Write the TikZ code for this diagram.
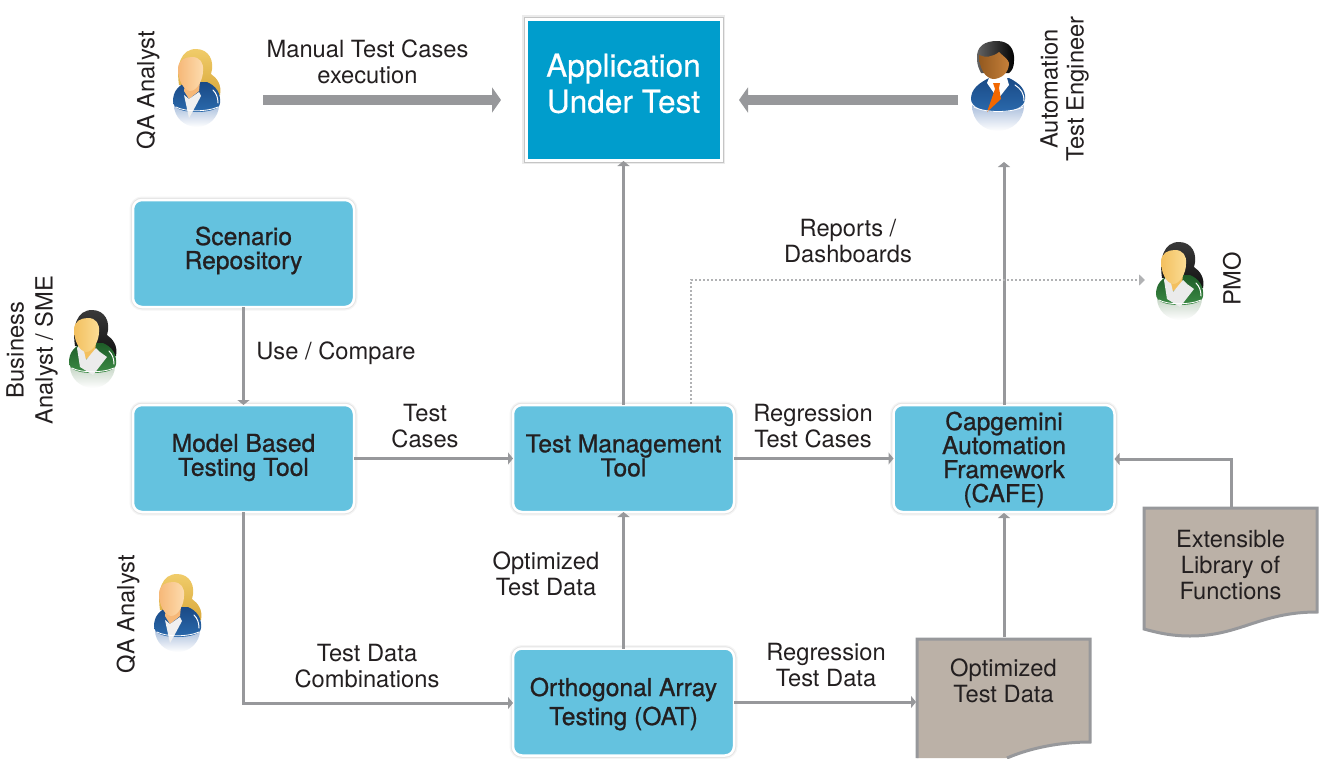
\documentclass[tikz,border=0pt]{standalone}
\usepackage{fontspec}
\setmainfont{TeX Gyre Heros}
\newfontfamily\medfont[FakeBold=0.9]{TeX Gyre Heros}
\newfontfamily\appfont[FakeBold=0.4]{TeX Gyre Heros}
\usetikzlibrary{arrows.meta}
\definecolor{ink}{HTML}{231F20}
\definecolor{boxblue}{HTML}{64C2DF}
\definecolor{appblue}{HTML}{009DCC}
\definecolor{linegray}{HTML}{97989B}
\definecolor{docfill}{HTML}{BBB1A7}
% figure palettes
\definecolor{blondeHairA}{HTML}{F0CC6A}\definecolor{blondeHairB}{HTML}{D9A93C}
\definecolor{blondeSkinA}{HTML}{FDDDB0}\definecolor{blondeSkinB}{HTML}{F6B878}
\definecolor{blondeCoatA}{HTML}{1A4A86}\definecolor{blondeCoatB}{HTML}{2A69AC}
\definecolor{blondeGlow}{HTML}{A9BEDC}
\definecolor{darkHairA}{HTML}{3A3A3A}\definecolor{darkHairB}{HTML}{111111}
\definecolor{darkSkinA}{HTML}{FBDD96}\definecolor{darkSkinB}{HTML}{F3C05F}
\definecolor{darkCoatA}{HTML}{1E5C28}\definecolor{darkCoatB}{HTML}{3C8B45}
\definecolor{darkGlow}{HTML}{C4D4C4}
\tikzset{
  lbl/.style={font=\fontsize{23.7}{26}\selectfont,text=ink,align=center,inner sep=0pt,outer sep=0pt},
  tool/.style={rounded corners=9pt,fill=boxblue,draw=white,line width=2.5pt,
    preaction={draw=black,draw opacity=.04,line width=7pt},
    preaction={draw=black,draw opacity=.07,line width=4.5pt},
    minimum width=221pt,minimum height=107pt,outer sep=0pt,inner sep=0pt},
  tooltext/.style={align=center,text=ink,inner sep=0pt,outer sep=0pt,
    font=\medfont\fontsize{24.6}{24}\selectfont},
  appbox/.style={fill=appblue,draw=white,line width=3pt,
    preaction={draw=black,draw opacity=.08,line width=8pt},
    preaction={draw=black,draw opacity=.16,line width=5pt},
    minimum width=195pt,minimum height=141pt,outer sep=0pt,inner sep=0pt},
  apptext/.style={align=center,text=white,inner sep=0pt,outer sep=0pt,
    font=\appfont\fontsize{31.6}{36}\selectfont},
  docbg/.style={fill=docfill,draw=linegray,line width=3pt,line join=miter},
  doctext/.style={minimum width=175pt,align=center,text=ink,inner sep=0pt,outer sep=0pt,
    font=\fontsize{23.7}{26}\selectfont},
  conn/.style={draw=linegray,line width=3pt,-{Triangle[width=12pt,length=5pt]}},
  bigconn/.style={draw=linegray,line width=10pt,-{Triangle[width=25pt,length=9pt]}},
  dotconn/.style={draw=linegray!75,line width=1.5pt,dash pattern=on 2pt off 2pt,-{Triangle[width=11pt,length=6pt]}},
  figlabel/.style={lbl,rotate=90}
}
% woman: x, y of top-left corner, palette, extra drawing
\newcommand{\womanfig}[4]{%
\begin{scope}[shift={(#1,#2)}]
  % reflection
  \shade[top color=#3Glow,bottom color=white,draw=none]
    (1,56) .. controls (8,64) and (38,64) .. (46,56)
    .. controls (46,68) and (36,78) .. (24,78) .. controls (11,78) and (1,68) .. (1,56) -- cycle;
  % hair
  \shade[top color=#3HairA,bottom color=#3HairB]
    (6,36) .. controls (3,16) and (8,0) .. (23,0) .. controls (36,0) and (42,12) .. (38,25)
    .. controls (44,29) and (49,36) .. (47,46) .. controls (42,46) and (35,42) .. (30,38) -- cycle;
  % coat
  \shade[top color=#3CoatA,bottom color=#3CoatB]
    (0,52) .. controls (0,42) and (6,36) .. (14,33) -- (34,33)
    .. controls (43,37) and (48,44) .. (47,54) .. controls (47,60) and (36,63) .. (24,63)
    .. controls (10,63) and (0,60) .. (0,52) -- cycle;
  % neck
  \fill[#3SkinB] (12,34) -- (27,32) -- (26,42) -- (16,50) -- (11,42) -- cycle;
  #4
  % face
  \shade[left color=#3SkinB,right color=#3SkinA]
    (5,20) .. controls (5,11) and (12,8) .. (19,8) .. controls (27,8) and (31,14) .. (30,22)
    .. controls (30,31) and (24,42) .. (17,42) .. controls (10,41) and (5,30) .. (5,20) -- cycle;
  % highlights
  \draw[white,line width=1pt,line cap=round] (40,41) .. controls (43,44) and (45,48) .. (45,54);
  \draw[white,line width=.8pt,line cap=round] (3,58) .. controls (12,63) and (34,63) .. (45,58);
\end{scope}}
\newcommand{\blondeblouse}{\fill[white!94!black] (11,46) -- (16,50) -- (26,43) -- (28,47) -- (20,62) -- (16,69) -- cycle;}
\newcommand{\greenblouse}{\fill[white!92!black] (8,38) -- (13,32) -- (17,50) -- (27,38) -- (31,42) -- (38,47) -- (24,65) -- (11,57) -- cycle;}
% man: x, y of top-left corner
\newcommand{\manfig}[2]{%
\begin{scope}[shift={(#1,#2)}]
  \shade[top color=blondeGlow,bottom color=white,draw=none]
    (1,64) .. controls (10,72) and (44,72) .. (53,64)
    .. controls (53,80) and (40,90) .. (27,90) .. controls (13,90) and (1,80) .. (1,64) -- cycle;
  \shade[top color=blondeCoatA,bottom color=blondeCoatB]
    (0,58) .. controls (0,48) and (8,42) .. (18,37) -- (38,37)
    .. controls (48,42) and (55,48) .. (54,58) .. controls (54,66) and (42,71) .. (27,71)
    .. controls (12,71) and (0,66) .. (0,58) -- cycle;
  \fill[white] (18,37) -- (36,37) -- (38,44) -- (27,58) -- (16,42) -- cycle;
  \fill[orange!85!red!95!black] (22,42) -- (29,42) -- (28,47) -- (30,58) -- (16,71) -- (24,48) -- cycle;
  \shade[left color=black!60,right color=black,draw=none]
    (6,18) .. controls (5,5) and (14,0) .. (26,0) .. controls (38,0) and (44,8) .. (43,20)
    .. controls (43,26) and (41,30) .. (38,32) -- (10,32) .. controls (8,28) and (6,24) .. (6,18) -- cycle;
  \shade[left color=brown!70!orange!70!black,right color=brown!90!orange]
    (8,14) .. controls (14,17) and (22,16) .. (28,11) .. controls (32,15) and (37,18) .. (38,22)
    .. controls (38,32) and (30,38) .. (22,38) .. controls (14,37) and (8,27) .. (8,14) -- cycle;
  \draw[white,line width=1pt,line cap=round] (44,44) .. controls (50,48) and (53,52) .. (53,60);
  \draw[white,line width=.8pt,line cap=round] (3,66) .. controls (14,72) and (40,72) .. (52,66);
\end{scope}}
\begin{document}
\begin{tikzpicture}[x=1pt,y=-1pt]
\useasboundingbox (0,0) rectangle (1320,758);
% documents
\draw[docbg] (917,758) -- (917,639) -- (1090,639) -- (1090,742) .. controls (1060,742) and (1030,748) .. (1007,758);
\draw[docbg] (1144,508) -- (1317,508) -- (1317,612) .. controls (1260,612) and (1240,636) .. (1190,636)
  .. controls (1170,636) and (1155,632) .. (1144,629) -- cycle;
% nodes
\node[appbox] (app) at (623.5,89.5) {};
\node[tool] (scen) at (243.5,253.5) {};
\node[tool] (model) at (243.5,458.5) {};
\node[tool] (tmt) at (623.5,458.5) {};
\node[tool] (cafe) at (1004,458.5) {};
\node[tool] (oat) at (623.5,702) {};
\node[apptext] (appt) at ([yshift=6pt]app) {Application\\Under Test};
\node[tooltext] (scent) at ([yshift=3pt]scen) {Scenario\\Repository};
\node[tooltext] (modelt) at ([yshift=1pt]model) {Model Based\\Testing Tool};
\node[tooltext] (tmtt) at ([yshift=3pt]tmt) {Test Management\\Tool};
\node[tooltext] (cafet) at ([yshift=-1pt]cafe) {Capgemini\\Automation\\Framework\\(CAFE)};
\node[tooltext] (oatt) at ([yshift=-2pt]oat) {Orthogonal Array\\[5pt]Testing (OAT)};
\node[doctext] (opt) at (1003.5,681) {Optimized\\Test Data};
\node[doctext] (lib) at (1230.5,565) {Extensible\\Library of\\Functions};
% figures
\womanfig{173}{49}{blonde}{\blondeblouse}
\manfig{971}{41}
\womanfig{69}{310}{dark}{\greenblouse}
\womanfig{1156}{242}{dark}{\greenblouse}
\womanfig{154}{574}{blonde}{\blondeblouse}
% free ends
\coordinate (qaend) at (263,100);
\coordinate (autoend) at (958,100);
\coordinate (cafetop) at (1004,162);
\coordinate (pmoend) at (1145,280);
\coordinate (tmtdot) at (691,404);
\coordinate (bend) at (243.5,703);
\coordinate (libcorner) at (1231,459);
\coordinate (libtop) at (1231,507);
\coordinate (opttop) at (1004,637);
% connectors
\draw[bigconn,shorten >=25pt] (qaend) -- (qaend -| app.west);
\draw[bigconn,shorten >=18pt] (autoend) -- (autoend -| app.east);
\draw[conn] (scen.south) -- (model.north);
\draw[conn] (model.east) -- (tmt.west);
\draw[conn,shorten >=1pt] (tmt.north) -- (app.south);
\draw[conn] (tmt.east) -- (cafe.west);
\draw[conn] (cafe.north) -- (cafetop);
\draw[conn] (oat.north) -- (tmt.south);
\draw[conn] (model.south) -- (bend) -- (bend -| oat.west);
\draw[conn] (oat.east) -- (oat.east -| opt.west);
\draw[conn,shorten >=1pt] (opttop) -- (cafe.south);
\draw[conn] (libtop) -- (libcorner) -- (cafe.east |- libcorner);
\draw[dotconn] (tmtdot) -- (tmtdot |- pmoend) -- (pmoend);
% labels
\node[lbl] (l1) at (367.5,62) {Manual Test Cases\\execution};
\node[lbl] (l2) at (848,241) {Reports /\\Dashboards};
\node[lbl] (l3) at (336,353) {Use / Compare};
\node[lbl] (l4) at (425,426) {Test\\Cases};
\node[lbl] (l5) at (813,426) {Regression\\Test Cases};
\node[lbl] (l6) at (546,574) {Optimized\\Test Data};
\node[lbl] (l7) at (367,666) {Test Data\\Combinations};
\node[lbl] (l8) at (826,665) {Regression\\Test Data};
\node[figlabel] (f1) at (148,90) {QA Analyst};
\node[figlabel] (f2) at (1064.5,89) {Automation\\Test Engineer};
\node[figlabel] (f3) at (32,350) {Business\\[3pt]Analyst / SME};
\node[figlabel] (f4) at (1232,279) {PMO};
\node[figlabel] (f5) at (128,614) {QA Analyst};
\end{tikzpicture}
\end{document}
